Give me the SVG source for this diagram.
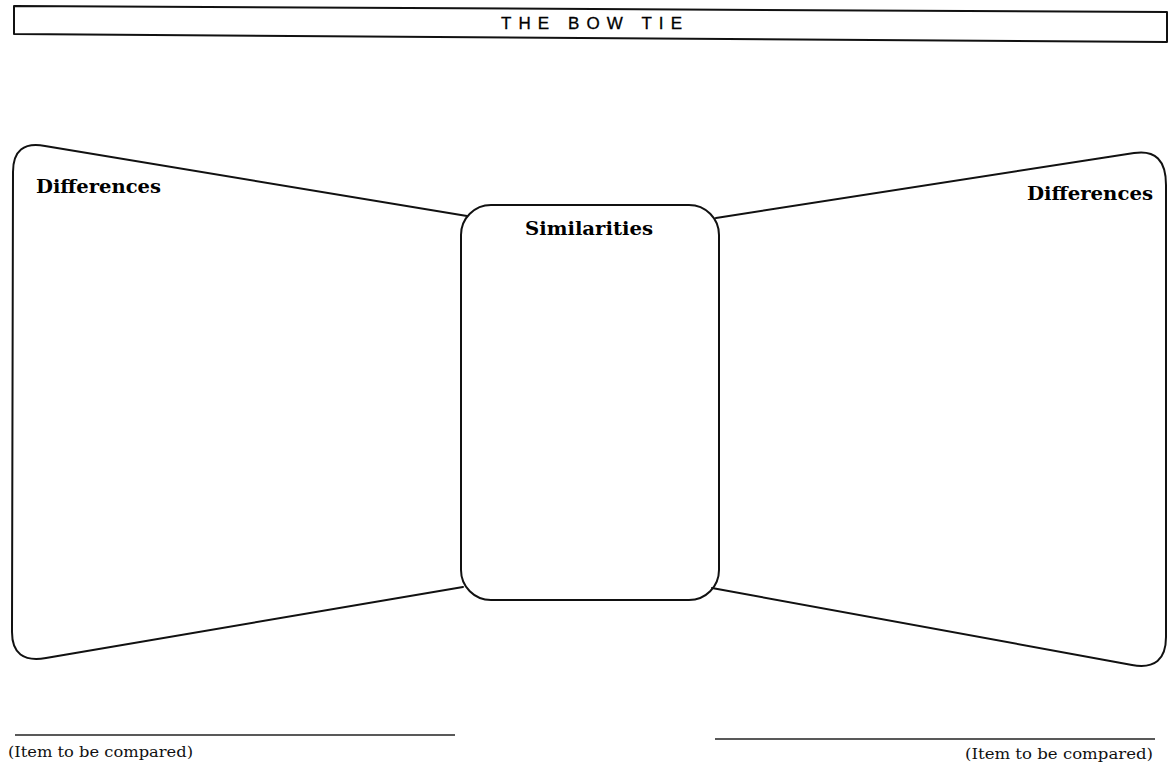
<svg xmlns="http://www.w3.org/2000/svg" width="1173" height="775" viewBox="0 0 1173 775">
<style>
.ln{fill:none;stroke:#111;stroke-width:2;stroke-linejoin:round;stroke-linecap:round}
.hd{font-family:"DejaVu Serif","Liberation Serif",serif;font-weight:bold;font-size:18px;fill:#000}
.it{font-family:"DejaVu Serif","Liberation Serif",serif;font-size:14px;fill:#111}
.tt{font-family:"Liberation Sans","DejaVu Sans",sans-serif;font-size:17px;fill:#000;stroke:#000;stroke-width:0.3}
.ul{stroke:#222;stroke-width:1.5}
</style>
<rect width="1173" height="775" fill="#fff"/>
<g id="title">
<path class="ln" d="M14,6 L1167,12 L1167,42 L14,34 Z"/>
<text class="tt" x="501" y="29" textLength="181" lengthAdjust="spacing">THE BOW TIE</text>
</g>
<g id="left-wing">
<path class="ln" d="M467,216 L45,146 Q13,140 13,172 L12,632 Q12,664 46,658 L463,587"/>
<text class="hd" x="36" y="193" textLength="125" lengthAdjust="spacingAndGlyphs">Differences</text>
</g>
<g id="right-wing">
<path class="ln" d="M716,218 L1134,153 Q1166,148 1166,185 L1166,637 Q1166,671 1132,665 L712,588"/>
<text class="hd" x="1027" y="200" textLength="126" lengthAdjust="spacingAndGlyphs">Differences</text>
</g>
<g id="center">
<rect class="ln" x="461" y="205" width="258" height="395" rx="30" ry="30"/>
<text class="hd" x="525" y="235" textLength="128" lengthAdjust="spacingAndGlyphs">Similarities</text>
</g>
<g id="connectors"></g>
<g id="item-left">
<line class="ul" x1="15" y1="735" x2="455" y2="735"/>
<text class="it" x="8" y="757" textLength="185" lengthAdjust="spacingAndGlyphs">(Item to be compared)</text>
</g>
<g id="item-right">
<line class="ul" x1="715" y1="739" x2="1155" y2="739"/>
<text class="it" x="965" y="759" textLength="188" lengthAdjust="spacingAndGlyphs">(Item to be compared)</text>
</g>
</svg>
